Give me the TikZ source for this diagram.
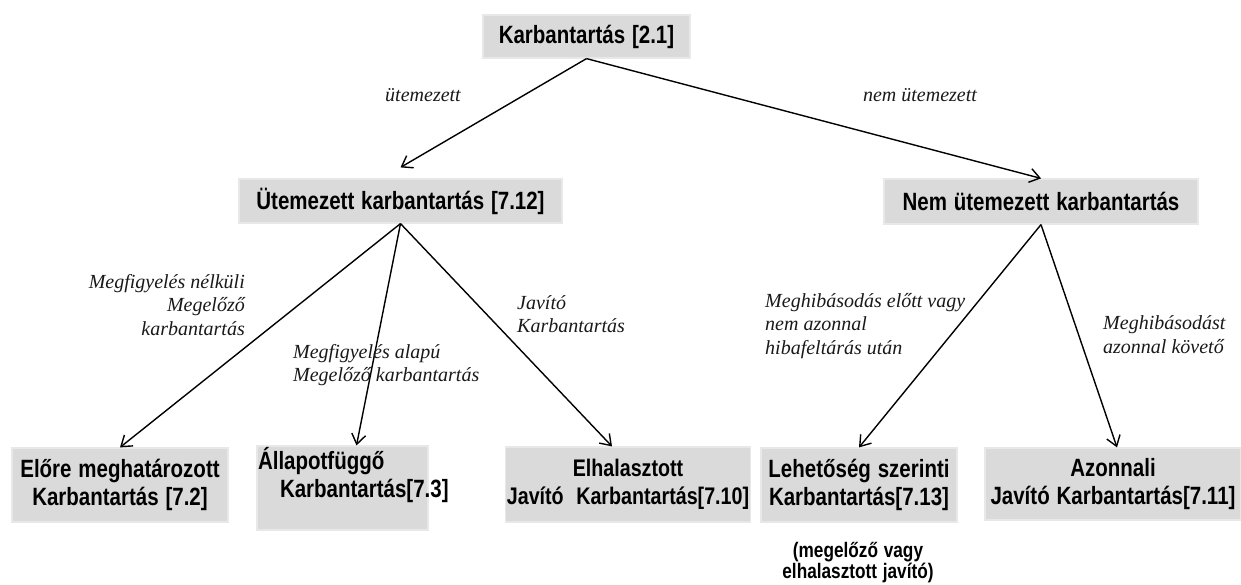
\documentclass[tikz,border=0pt]{standalone}
\usepackage{fontspec}
\usetikzlibrary{arrows.meta}
\newfontfamily\boxfont{Liberation Sans}[FakeStretch=0.82,WordSpace=2.0]
\newfontfamily\notefont{Liberation Sans}[FakeStretch=0.82,WordSpace=1.2]
\newfontfamily\lblfont{Liberation Serif}
\definecolor{boxfill}{RGB}{218,218,218}
\definecolor{boxedge}{RGB}{232,232,232}
\tikzset{
  box/.style={rectangle, fill=boxfill, draw=boxedge, line width=1.2pt, inner sep=1pt,
    align=center, font=\boxfont\bfseries\fontsize{25}{28}\selectfont},
  edgelbl/.style={inner sep=0pt, text=black!90,
    font=\lblfont\itshape\fontsize{20}{23.5}\selectfont},
  arr/.style={line width=1.4pt, -{Straight Barb[length=10pt,width=14pt]}}
}
\begin{document}
\begin{tikzpicture}[x=1pt,y=-1pt]
\useasboundingbox (0,0) rectangle (1241,584);

% level 0
\node[box, minimum width=207, minimum height=43] (root) at (586.5,36.5) {Karbantartás [2.1]};

% level 1
\node[box, minimum width=323, minimum height=44] (ut) at (400.5,201) {Ütemezett karbantartás [7.12]};
\node[box, minimum width=314, minimum height=45] (nem) at (1041,201.5) {Nem ütemezett karbantartás};

% level 2
\node[box, minimum width=216, minimum height=74] (elore) at (120,485) {Előre meghatározott\\Karbantartás [7.2]};
\node[box, minimum width=171, minimum height=84] (alla) at (342.5,488) {};
\node[box, draw=none, fill=none, anchor=north west, align=left, inner sep=0pt] (allatext)
  at ([xshift=1pt,yshift=-1pt]alla.north west) {Állapotfüggő\\\hspace*{22pt}Karbantartás[7.3]};
\node[box, minimum width=230, minimum height=75, font=\boxfont\bfseries\fontsize{24}{28}\selectfont] (elh)
  at (628,484.5) {Elhalasztott\\Javító\hspace{6pt} Karbantartás[7.10]};
\node[box, minimum width=196, minimum height=74] (leh) at (859,485) {Lehetőség szerinti\\Karbantartás[7.13]};
\node[box, minimum width=256, minimum height=72] (az) at (1113,484) {Azonnali\\Javító Karbantartás[7.11]};

\node[align=center, inner sep=0pt, font=\notefont\bfseries\fontsize{21}{21}\selectfont] (note)
  at (858,563) {(megelőző vagy\\elhalasztott javító)};

% connectors
\draw[arr] (root.south) -- ([yshift=11pt]ut.north);
\draw[arr] (root.south) -- (nem.north);
\draw[arr] (ut.south) -- (elore.north);
\draw[arr] (ut.south) -- ([xshift=14pt]alla.north);
\draw[arr] (ut.south) -- ([xshift=-16pt]elh.north);
\draw[arr] (nem.south) -- (leh.north);
\draw[arr] (nem.south) -- ([xshift=4pt]az.north);

% edge labels
\node[edgelbl] (l1) at (423,95) {ütemezett};
\node[edgelbl] (l2) at (920,95) {nem ütemezett};
\node[edgelbl, anchor=east, align=right] (l3) at (245,305) {Megfigyelés nélküli\\Megelőző\\karbantartás};
\node[edgelbl, anchor=west, align=left] (l4) at (293,365) {Megfigyelés alapú\\Megelőző karbantartás};
\node[edgelbl, anchor=west, align=left] (l5) at (517,314) {Javító\\Karbantartás};
\node[edgelbl, anchor=west, align=left] (l6) at (765,326) {Meghibásodás előtt vagy\\nem azonnal\\hibafeltárás után};
\node[edgelbl, anchor=west, align=left] (l7) at (1103,334.5) {Meghibásodást\\azonnal követő};
\end{tikzpicture}
\end{document}
